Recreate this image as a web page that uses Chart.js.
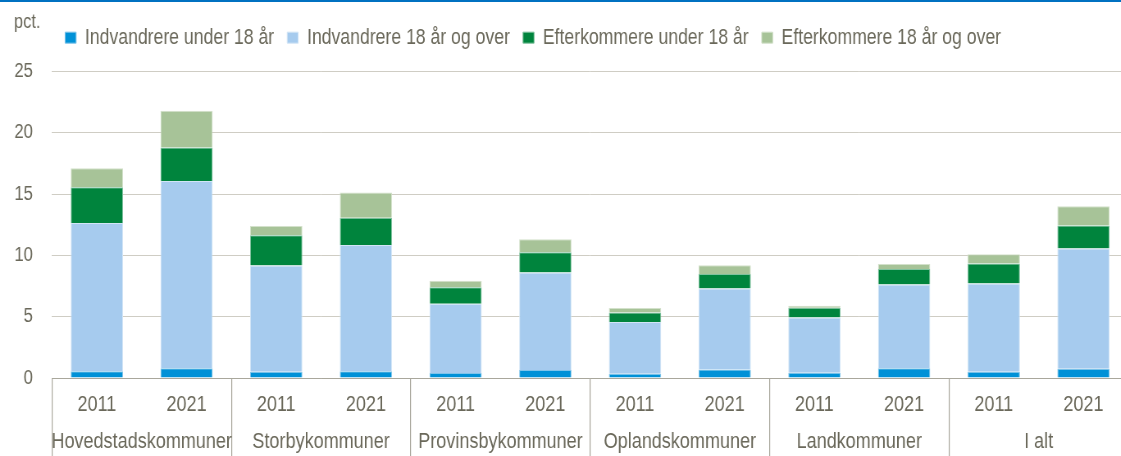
<!DOCTYPE html>
<html lang="da">
<head>
<meta charset="utf-8">
<title>Indvandrere og efterkommere</title>
<script src="https://cdn.jsdelivr.net/npm/chart.js@4.4.1/dist/chart.umd.min.js"></script>
<style>
  html, body { margin: 0; padding: 0; background: #fff; }
  #wrap { position: relative; width: 1121px; height: 456px; overflow: hidden; }
  #topline { position: absolute; left: 0; top: 0; width: 100%; height: 2px; background: #0071c1; }
  /* the original figure uses a narrow typeface: draw wide, then squeeze horizontally */
  canvas { display: block; transform: scaleX(0.82); transform-origin: 0 0; }
</style>
</head>
<body>
<div id="wrap">
  <canvas id="chart" width="1376" height="456"></canvas>
  <div id="topline"></div>
</div>
<script>
// --- Data ---
const groups = ['Hovedstadskommuner', 'Storbykommuner', 'Provinsbykommuner', 'Oplandskommuner', 'Landkommuner', 'I alt'];
const years = ['2011', '2021'];
const seriesNames = ['Indvandrere under 18 år', 'Indvandrere 18 år og over', 'Efterkommere under 18 år', 'Efterkommere 18 år og over'];

// one value per group and year, in the order of groups x years
const indvUnder18 = [0.55, 0.80, 0.50, 0.55, 0.40, 0.65, 0.35, 0.70, 0.43, 0.80, 0.50, 0.76];
const indvOver18 = [12.10, 15.27, 8.67, 10.30, 5.65, 7.95, 4.21, 6.60, 4.51, 6.82, 7.20, 9.80];
const efterUnder18 = [2.90, 2.73, 2.47, 2.22, 1.36, 1.66, 0.79, 1.19, 0.79, 1.27, 1.65, 1.87];
const efterOver18 = [1.55, 3.00, 0.76, 2.07, 0.52, 1.06, 0.35, 0.71, 0.16, 0.41, 0.74, 1.57];

const yTicks = [0, 5, 10, 15, 20, 25];

// --- Styles ---
const SX = 0.82; // horizontal squeeze of the canvas
const FONT = '"Liberation Sans", Arial, sans-serif';
const TEXT = '#6a685a';
const colors = ['#0091d7', '#a6cbee', '#00843d', '#a7c398'];
const edges = ['#7fc4ea', '#d2e5f6', '#7fc19e', '#d3e1cb'];

Chart.defaults.font.family = FONT;
Chart.defaults.color = TEXT;

const labels = groups.flatMap(() => years);
const values = [indvUnder18, indvOver18, efterUnder18, efterOver18];

new Chart(document.getElementById('chart').getContext('2d'), {
    type: 'bar',
    data: {
        labels: labels,
        datasets: values.map((data, i) => ({
            label: seriesNames[i],
            data: data,
            backgroundColor: colors[i],
            borderColor: edges[i],
            borderWidth: 1,
            borderSkipped: 'start',
            barPercentage: 0.583,
            categoryPercentage: 1
        }))
    },
    options: {
        responsive: false,
        animation: false,
        devicePixelRatio: 1,
        layout: { padding: { left: 14 / SX, right: 0, top: 0, bottom: 0 } },
        plugins: {
            title: {
                display: true,
                text: 'pct.',
                align: 'start',
                color: TEXT,
                font: { size: 20, weight: 'normal', lineHeight: 1.2 },
                padding: { top: 10, bottom: -23.1 }
            },
            legend: {
                display: true,
                position: 'top',
                align: 'start',
                fullSize: false,
                labels: {
                    boxWidth: 11 / SX,
                    boxHeight: 11,
                    padding: 16,
                    color: TEXT,
                    font: { size: 21.5 }
                }
            },
            tooltip: { enabled: false }
        },
        scales: {
            x: {
                stacked: true,
                offset: true,
                grid: {
                    display: true,
                    offset: true,
                    drawOnChartArea: false,
                    drawTicks: true,
                    tickLength: 80,
                    lineWidth: 1.2,
                    color: ctx => (ctx.index === undefined || ctx.index % 2 === 0) ? '#a9a79c' : 'rgba(0,0,0,0)'
                },
                border: { display: true, color: '#a9a79c', width: 1 },
                ticks: {
                    autoSkip: false,
                    maxRotation: 0,
                    minRotation: 0,
                    padding: -66.2,
                    color: TEXT,
                    font: { size: 22 }
                },
                afterFit: s => { s.height = 45; }
            },
            x2: {
                type: 'category',
                position: 'bottom',
                labels: groups,
                offset: true,
                grid: { display: false, drawTicks: false },
                border: { display: false },
                ticks: {
                    autoSkip: false,
                    maxRotation: 0,
                    minRotation: 0,
                    padding: 6.2,
                    color: TEXT,
                    font: { size: 22 }
                },
                afterFit: s => { s.height = 33; }
            },
            y: {
                stacked: true,
                min: 0,
                max: 26.07,
                grid: { color: '#cfcdc4', lineWidth: 1, drawTicks: false },
                border: { display: false },
                ticks: {
                    stepSize: 5,
                    includeBounds: false,
                    padding: 19 / SX,
                    color: TEXT,
                    font: { size: 20.5 }
                },
                afterBuildTicks: s => { s.ticks = yTicks.map(v => ({ value: v })); },
                afterFit: s => { s.width = 38 / SX; }
            }
        }
    }
});
</script>
</body>
</html>
